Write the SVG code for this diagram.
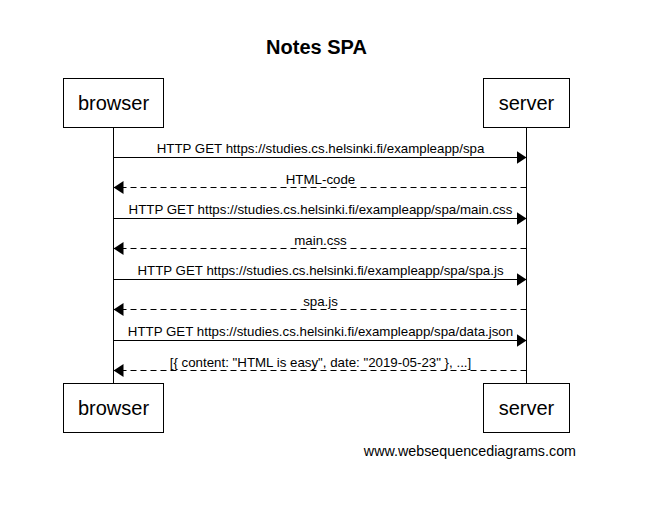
<svg xmlns="http://www.w3.org/2000/svg" width="659" height="509" viewBox="0 0 659 509">
<style>
.box{fill:#fff;stroke:#000;stroke-width:1}
.actor{font-family:"Liberation Sans",Arial,sans-serif;font-size:20px;text-anchor:middle;fill:#000}
.lbl{font-family:"Liberation Sans",Arial,sans-serif;font-size:13.3px;text-anchor:middle;fill:#000}
.life{stroke:#000;stroke-width:1}
.msg{stroke:#000;stroke-width:1;fill:none}
.ret{stroke:#000;stroke-width:1;fill:none;stroke-dasharray:6,4}
</style>
<defs>
<marker id="ah" markerWidth="10" markerHeight="13" refX="10" refY="6.5" orient="auto" markerUnits="userSpaceOnUse">
<path d="M0,0 L10,6.5 L0,13 Z" fill="#000"/>
</marker>
</defs>
<rect width="659" height="509" fill="#fff"/>
<text x="316.5" y="54" font-family="'Liberation Sans',Arial,sans-serif" font-size="20" font-weight="bold" text-anchor="middle">Notes SPA</text>
<g id="lifelines">
<line class="life" x1="113.5" y1="127" x2="113.5" y2="383"/>
<line class="life" x1="526.5" y1="127" x2="526.5" y2="383"/>
</g>
<g id="browser-top"><rect class="box" x="63.5" y="78.5" width="100" height="49"/><text class="actor" x="113.5" y="110">browser</text></g>
<g id="server-top"><rect class="box" x="483.5" y="78.5" width="86" height="49"/><text class="actor" x="526.5" y="110">server</text></g>
<g id="browser-bottom"><rect class="box" x="63.5" y="383.5" width="100" height="49"/><text class="actor" x="113.5" y="415">browser</text></g>
<g id="server-bottom"><rect class="box" x="483.5" y="383.5" width="86" height="49"/><text class="actor" x="526.5" y="415">server</text></g>
<g id="connectors">
<line class="msg" x1="113.5" y1="157.5" x2="526.5" y2="157.5" marker-end="url(#ah)"/>
<text class="lbl" x="320.5" y="153">HTTP GET https://studies.cs.helsinki.fi/exampleapp/spa</text>
<line class="ret" x1="526.5" y1="187.5" x2="113.5" y2="187.5" marker-end="url(#ah)"/>
<text class="lbl" x="320.5" y="184">HTML-code</text>
<line class="msg" x1="113.5" y1="218.5" x2="526.5" y2="218.5" marker-end="url(#ah)"/>
<text class="lbl" x="320.5" y="214">HTTP GET https://studies.cs.helsinki.fi/exampleapp/spa/main.css</text>
<line class="ret" x1="526.5" y1="248.5" x2="113.5" y2="248.5" marker-end="url(#ah)"/>
<text class="lbl" x="320.5" y="245">main.css</text>
<line class="msg" x1="113.5" y1="279.5" x2="526.5" y2="279.5" marker-end="url(#ah)"/>
<text class="lbl" x="320.5" y="275">HTTP GET https://studies.cs.helsinki.fi/exampleapp/spa/spa.js</text>
<line class="ret" x1="526.5" y1="309.5" x2="113.5" y2="309.5" marker-end="url(#ah)"/>
<text class="lbl" x="320.5" y="306">spa.js</text>
<line class="msg" x1="113.5" y1="340.5" x2="526.5" y2="340.5" marker-end="url(#ah)"/>
<text class="lbl" x="320.5" y="336">HTTP GET https://studies.cs.helsinki.fi/exampleapp/spa/data.json</text>
<line class="ret" x1="526.5" y1="370.5" x2="113.5" y2="370.5" marker-end="url(#ah)"/>
<text class="lbl" x="320.5" y="367">[{ content: "HTML is easy", date: "2019-05-23" }, ...]</text>
</g>
<text x="576" y="456" font-family="'Liberation Sans',Arial,sans-serif" font-size="14.3" text-anchor="end">www.websequencediagrams.com</text>
</svg>
